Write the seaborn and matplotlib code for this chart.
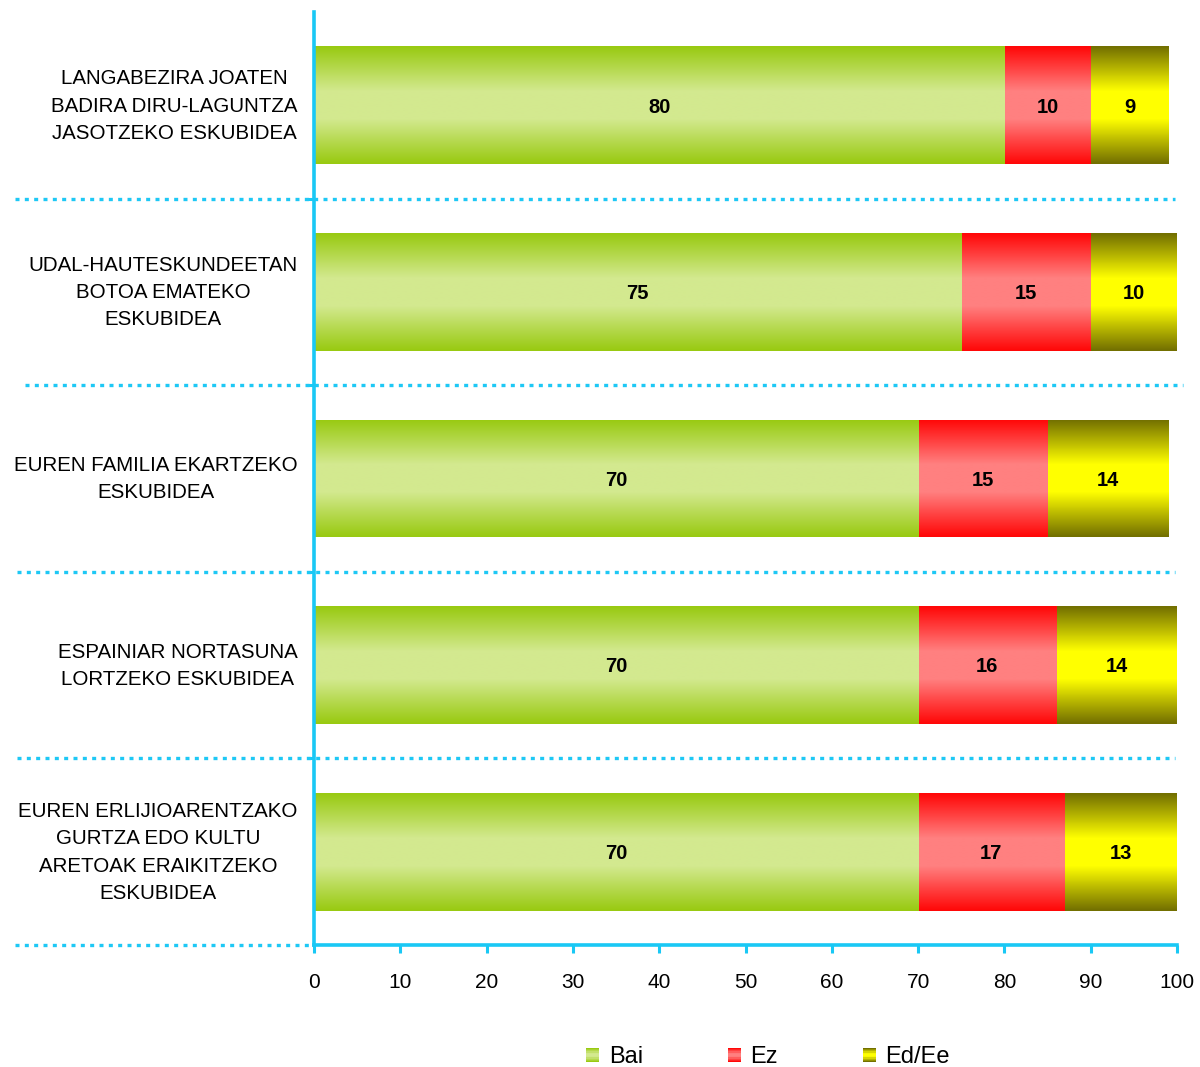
import numpy as np
import pandas as pd
import matplotlib
matplotlib.use("Agg")
import matplotlib.pyplot as plt
import seaborn as sns
from matplotlib.colors import LinearSegmentedColormap
from matplotlib.patches import Rectangle
from matplotlib.legend_handler import HandlerBase

# data
categories = [
    "LANGABEZIRA JOATEN\nBADIRA DIRU-LAGUNTZA\nJASOTZEKO ESKUBIDEA",
    "UDAL-HAUTESKUNDEETAN\nBOTOA EMATEKO\nESKUBIDEA",
    "EUREN FAMILIA EKARTZEKO\nESKUBIDEA",
    "ESPAINIAR NORTASUNA\nLORTZEKO ESKUBIDEA",
    "EUREN ERLIJIOARENTZAKO\nGURTZA EDO KULTU\nARETOAK ERAIKITZEKO\nESKUBIDEA",
]
bai = [80, 75, 70, 70, 70]
ez = [10, 15, 15, 16, 17]
ed_ee = [9, 10, 14, 14, 13]
series_names = ["Bai", "Ez", "Ed/Ee"]
xticks = list(range(0, 101, 10))

# edge colour -> middle colour for each vertical gradient
gradients = {
    "Bai": ("#99CA12", "#D3E98F"),
    "Ez": ("#FF0808", "#FF8080"),
    "Ed/Ee": ("#737000", "#FFFF00"),
}
axis_color = "#19C8F5"

sns.set_theme(style="white")
plt.rcParams["font.family"] = ["Liberation Sans", "DejaVu Sans"]
plt.rcParams["text.color"] = "black"
plt.rcParams["xtick.color"] = "black"
plt.rcParams["ytick.color"] = "black"

df = pd.DataFrame({"cat": categories, "Bai": bai, "Ez": ez, "Ed/Ee": ed_ee})
df["c1"] = df["Bai"]
df["c2"] = df["Bai"] + df["Ez"]
df["c3"] = df["c2"] + df["Ed/Ee"]

fig = plt.figure(figsize=(12, 10.67), dpi=100)
ax = fig.add_axes([0.2617, 0.1143, 0.7191, 0.8745])

bar_h = 0.63
# draw cumulative totals back to front so the segments stack
for k, (col, name) in enumerate([("c3", "Ed/Ee"), ("c2", "Ez"), ("c1", "Bai")]):
    sns.barplot(data=df, x=col, y="cat", orient="h", color=gradients[name][1],
                width=bar_h, ax=ax, saturation=1, zorder=2 + 2 * k)

def grad_cmap(name):
    edge, mid = gradients[name]
    return LinearSegmentedColormap.from_list(
        name, [(0, edge), (0.38, mid), (0.62, mid), (1, edge)], N=256)

grad = np.linspace(0, 1, 64).reshape(-1, 1)

# overlay gradient images clipped to each bar
order = ["Ed/Ee", "Ez", "Bai"]
for k, cont in enumerate(ax.containers):
    name = order[k]
    cmap = grad_cmap(name)
    for p in cont.patches:
        x0, y0 = p.get_x(), p.get_y()
        w, h = p.get_width(), p.get_height()
        p.set_edgecolor("none")
        im = ax.imshow(grad, cmap=cmap, aspect="auto",
                       extent=[x0, x0 + w, y0 + h, y0],
                       zorder=2 + 2 * k + 1, interpolation="bilinear")
        im.set_clip_path(p)

# segment labels
for i in range(len(categories)):
    lefts = [0, bai[i], bai[i] + ez[i]]
    vals = [bai[i], ez[i], ed_ee[i]]
    for l, v in zip(lefts, vals):
        ax.text(l + v / 2, i + 0.01, f"{v}", ha="center", va="center",
                fontsize=14.5, fontweight="bold", color="black", zorder=20)

ax.set_xlim(0, 100)
ax.set_ylim(4.5, -0.5)
ax.set_xticks(xticks)
ax.set_xticklabels([str(t) for t in xticks], fontsize=15)
ax.set_xlabel("")
ax.set_ylabel("")

# category labels, lines centred within each block
ax.set_yticks(range(len(categories)))
ax.set_yticklabels([])
for i, cat in enumerate(categories):
    ax.text(-0.019, i + 0.004, cat, transform=ax.get_yaxis_transform(),
            ha="right", va="center", multialignment="center",
            fontsize=14.8, linespacing=1.55, color="black")

ax.tick_params(axis="y", which="major", left=False, length=0)
ax.tick_params(axis="x", bottom=True, length=6, width=2.2, color=axis_color,
               direction="out", pad=14)
ax.set_yticks([0.5, 1.5, 2.5, 3.5], minor=True)
ax.tick_params(axis="y", which="minor", left=True, length=5, width=2.2,
               color=axis_color, direction="out")

for s in ["top", "right"]:
    ax.spines[s].set_visible(False)
for s in ["left", "bottom"]:
    ax.spines[s].set_color(axis_color)
    ax.spines[s].set_linewidth(2.6)
    ax.spines[s].set_zorder(30)

# dotted separators that run into the label area
sep_y = [0.5, 1.5, 2.5, 3.5, 4.5]
sep_x0 = [-34.6, -33.5, -34.4, -34.4, -34.6]
sep_x1 = [99.8, 100.7, 99.8, 99.8, 0]
for y, a, b in zip(sep_y, sep_x0, sep_x1):
    ax.plot([a, b], [y, y], color="#1EC8F5", lw=2.4,
            linestyle=(0, (1.2, 1.6)), clip_on=False, zorder=1,
            solid_capstyle="butt", dash_capstyle="butt")


class GradientHandler(HandlerBase):
    def create_artists(self, legend, orig, xdescent, ydescent, width,
                       height, fontsize, trans):
        cmap = grad_cmap(orig.get_label())
        n = 12
        arts = []
        for j in range(n):
            r = Rectangle((-xdescent, -ydescent + height * j / n), width,
                          height / n + 0.2, facecolor=cmap(j / (n - 1)),
                          edgecolor="none", transform=trans)
            arts.append(r)
        return arts


handles = [Rectangle((0, 0), 1, 1, label=n) for n in series_names]
fig.legend(handles=handles, labels=series_names,
           handler_map={Rectangle: GradientHandler()},
           loc="center", bbox_to_anchor=(0.640, 0.009), ncol=3,
           frameon=False, fontsize=17, handlelength=0.55, handleheight=0.55,
           handletextpad=0.4, columnspacing=3.6)

fig.savefig("out.png", dpi=100)
